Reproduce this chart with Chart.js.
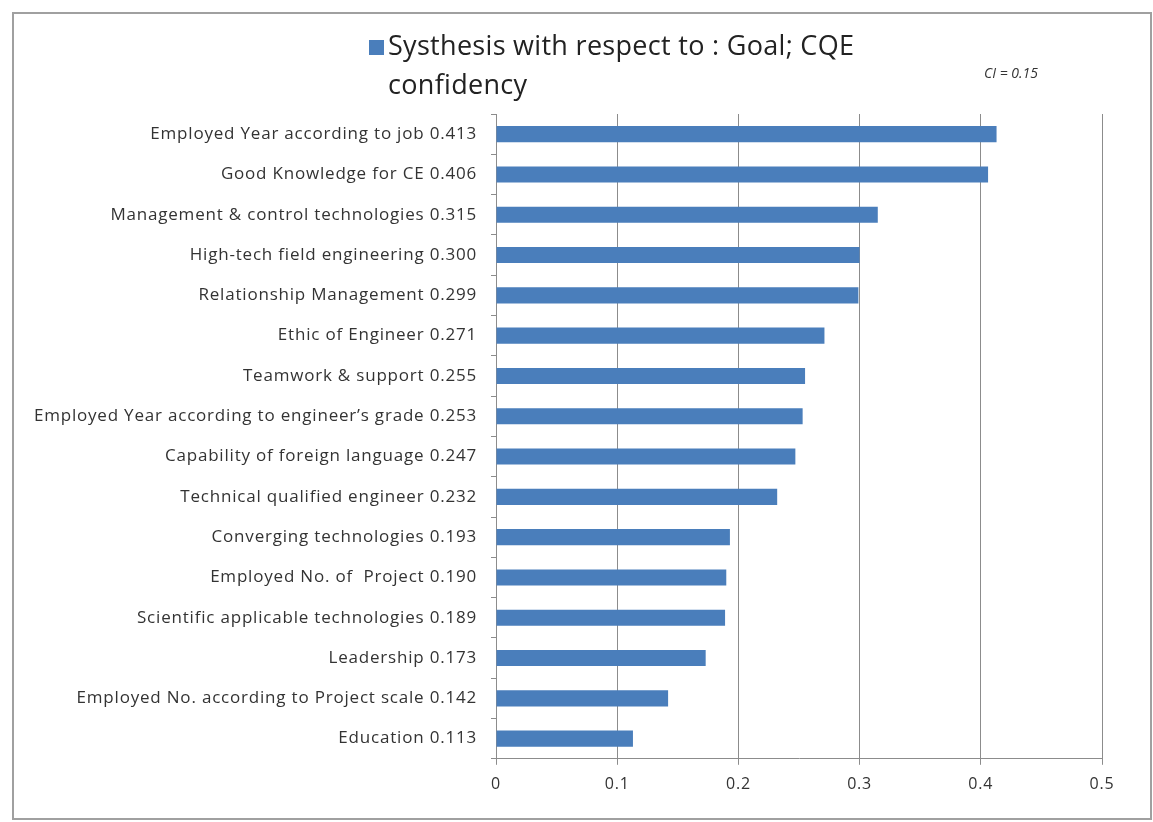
<!DOCTYPE html>
<html lang="en">
<head>
    <meta charset="UTF-8">
    <title>Systhesis with respect to : Goal; CQE confidency</title>
    <script src="https://cdn.jsdelivr.net/npm/chart.js@4.4.0/dist/chart.umd.min.js"></script>
    <style>
        body {
            margin: 0;
            background: #fff;
            width: 1153px;
            height: 822px;
            overflow: hidden;
            font-family: "Open Sans", sans-serif;
        }
        .chart-box {
            position: absolute;
            left: 12px;
            top: 12px;
            width: 1136px;
            height: 804px;
            border: 2px solid #a0a0a0;
            background: #fff;
        }
    </style>
</head>
<body>
    <div class="chart-box">
        <canvas id="cqeChart"></canvas>
    </div>

    <script>
        // categories top to bottom, with their synthesis weights
        const categories = [
            'Employed Year according to job',
            'Good Knowledge for CE',
            'Management & control technologies',
            'High-tech field engineering',
            'Relationship Management',
            'Ethic of Engineer',
            'Teamwork & support',
            'Employed Year according to engineer\u2019s grade',
            'Capability of foreign language',
            'Technical qualified engineer',
            'Converging technologies',
            'Employed No. of  Project',
            'Scientific applicable technologies',
            'Leadership',
            'Employed No. according to Project scale',
            'Education'
        ];
        const weights = [0.413, 0.406, 0.315, 0.300, 0.299, 0.271, 0.255, 0.253,
                         0.247, 0.232, 0.193, 0.190, 0.189, 0.173, 0.142, 0.113];
        const xTicks = [0, 0.1, 0.2, 0.3, 0.4, 0.5];
        const seriesName = 'Systhesis with respect to : Goal; CQE confidency';
        const ciNote = 'CI = 0.15';

        const labels = categories.map((c, i) => c + ' ' + weights[i].toFixed(3));
        const fontFamily = '"Open Sans", sans-serif';

        // the Excel text is a bit more spread out than Open Sans
        const spacingPlugin = {
            id: 'spacing',
            beforeDraw(chart) {
                chart.ctx.letterSpacing = '0.8px';
            }
        };

        // legend (wrapped on two lines like the original) + CI note
        const headerPlugin = {
            id: 'header',
            afterDraw(chart) {
                const ctx = chart.ctx;
                ctx.save();
                ctx.letterSpacing = '0.3px';
                ctx.fillStyle = '#4a7ebb';
                ctx.fillRect(355, 26, 15, 15);
                ctx.fillStyle = '#222';
                ctx.font = '27px ' + fontFamily;
                ctx.textBaseline = 'middle';
                ctx.textAlign = 'left';
                ctx.fillText('Systhesis with respect to : Goal; CQE', 374, 33);
                ctx.fillText('confidency', 374, 72);
                ctx.letterSpacing = '0px';
                ctx.font = 'italic 14px ' + fontFamily;
                ctx.fillStyle = '#333';
                ctx.fillText(ciNote, 970, 60);
                ctx.restore();
            }
        };

        const ctx = document.getElementById('cqeChart').getContext('2d');
        new Chart(ctx, {
            type: 'bar',
            data: {
                labels: labels,
                datasets: [{
                    label: seriesName,
                    data: weights,
                    backgroundColor: '#4a7ebb',
                    borderWidth: 0,
                    barPercentage: 0.4,
                    categoryPercentage: 1.0
                }]
            },
            options: {
                indexAxis: 'y',
                responsive: true,
                maintainAspectRatio: false,
                animation: false,
                layout: {
                    padding: { top: 100, right: 48, bottom: 14, left: 0 }
                },
                plugins: {
                    legend: { display: false },
                    tooltip: { enabled: false }
                },
                scales: {
                    x: {
                        min: 0,
                        max: 0.5,
                        afterBuildTicks(scale) {
                            scale.ticks = xTicks.map(v => ({ value: v }));
                        },
                        ticks: {
                            color: '#333',
                            padding: 10,
                            font: { family: fontFamily, size: 16 },
                            callback: v => String(v)
                        },
                        grid: {
                            color: '#8c8c8c',
                            lineWidth: 1,
                            tickLength: 6
                        },
                        border: { color: '#8c8c8c' }
                    },
                    y: {
                        afterFit(scale) {
                            scale.width = 482;
                        },
                        ticks: {
                            color: '#333',
                            padding: 14,
                            font: { family: fontFamily, size: 17 }
                        },
                        grid: {
                            offset: true,
                            drawOnChartArea: false,
                            color: '#8c8c8c',
                            tickLength: 5
                        },
                        border: { color: '#8c8c8c' }
                    }
                }
            },
            plugins: [spacingPlugin, headerPlugin]
        });
    </script>
</body>
</html>
